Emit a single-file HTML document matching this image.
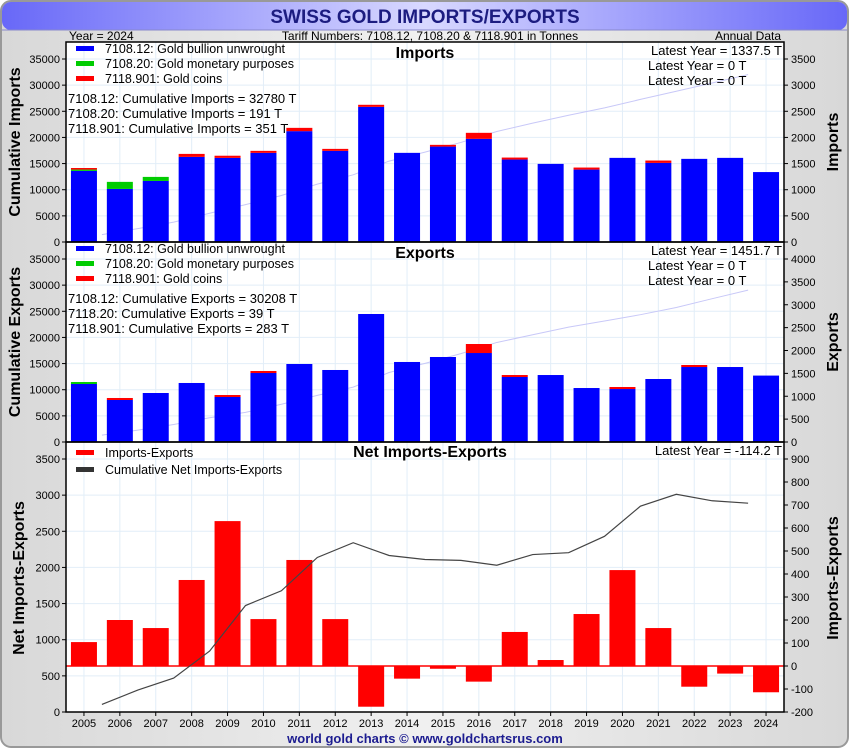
<!DOCTYPE html>
<html><head><meta charset="utf-8"><style>
body{margin:0;background:#fff;}
svg{display:block;font-family:"Liberation Sans",sans-serif;}
</style></head><body>
<svg id="c" width="850" height="750" xmlns="http://www.w3.org/2000/svg">
<defs>
<linearGradient id="tg" x1="0" x2="1"><stop offset="0" stop-color="#6868f8"/><stop offset="0.5" stop-color="#d8d8ff"/><stop offset="1" stop-color="#6868f8"/></linearGradient>
<linearGradient id="bg" x1="0" x2="1"><stop offset="0" stop-color="#d8d8d8"/><stop offset="0.5" stop-color="#f0f0f0"/><stop offset="1" stop-color="#d8d8d8"/></linearGradient>
</defs>
<rect x="1" y="1" width="847" height="746" rx="10" fill="url(#bg)" stroke="#999" stroke-width="2"/>
<rect x="2" y="2" width="845" height="28" rx="9" fill="url(#tg)"/>
<line x1="2" y1="30" x2="847" y2="30" stroke="#8888cc"/>
<text x="425" y="23" text-anchor="middle" font-size="19" font-weight="bold" fill="#1c1c80">SWISS GOLD IMPORTS/EXPORTS</text>
<text x="69" y="40" font-size="12">Year = 2024</text>
<text x="430" y="40" text-anchor="middle" font-size="12">Tariff Numbers: 7108.12, 7108.20 &amp; 7118.901 in Tonnes</text>
<text x="781" y="40" text-anchor="end" font-size="12">Annual Data</text>
<rect x="66" y="42" width="718" height="670" fill="#fff"/>
<g id="g"></g>
<text x="425" y="743" text-anchor="middle" font-size="13" font-weight="bold" fill="#1c1c90">world gold charts © www.goldchartsrus.com</text>
</svg>
<script>
const years=['2005','2006','2007','2008','2009','2010','2011','2012','2013','2014','2015','2016','2017','2018','2019','2020','2021','2022','2023','2024'];
const impBullion=[1360,1015,1168,1628,1609,1705,2120,1743,2585,1705,1825,1973,1577,1494,1385,1609,1513,1590,1609,1337.5];
const impMonetary=[25,135,77,0,0,0,0,0,0,0,0,0,0,0,0,0,0,0,0,0];
const impCoins=[30,0,0,57,41,38,63,38,39,0,33,115,38,0,39,0,45,0,0,0];
const expBullion=[1268,918,1071,1290,984,1508,1705,1574,2798,1749,1858,1945,1421,1464,1180,1158,1377,1639,1639,1451.7];
const expMonetary=[43,0,0,0,0,0,0,0,0,0,0,0,0,0,0,0,0,0,0,0];
const expCoins=[0,44,0,0,43,44,0,0,0,0,0,197,43,0,0,44,0,44,0,0];
const netVals=[104,200,165,374,630,204,461,204,-177,-55,-12,-68,148,26,226,417,165,-90,-33,-114.2];
const impLeftTicks=[0,5000,10000,15000,20000,25000,30000,35000];
const impRightTicks=[0,500,1000,1500,2000,2500,3000,3500];
const expRightTicks=[0,500,1000,1500,2000,2500,3000,3500,4000];
const netLeftTicks=[0,500,1000,1500,2000,2500,3000,3500];
const netRightTicks=[-200,-100,0,100,200,300,400,500,600,700,800,900];

const NS='http://www.w3.org/2000/svg';
const G=document.getElementById('g');
function mk(t,a,txt){const e=document.createElementNS(NS,t);for(const k in a)e.setAttribute(k,a[k]);if(txt!==undefined)e.textContent=txt;G.appendChild(e);return e;}
const X0=66,X1=784,slot=(X1-X0)/years.length;
const xc=i=>X0+slot*(i+0.5);
const BW=26;

function panel(o){
  const yL=v=>o.bot-(v-o.lmin)/(o.lmax-o.lmin)*(o.bot-o.topTick);
  const yR=v=>o.bot-(v-o.rmin)/(o.rmax-o.rmin)*(o.bot-o.topTick);
  for(let i=0;i<years.length;i++){const l=mk('line',{x1:xc(i),x2:xc(i),y1:o.top,y2:o.bot,stroke:'#e2eef8'});
    
    }
  o.lticks.forEach(v=>{const y=yL(v);
    const l=mk('line',{x1:X0,x2:X1,y1:y,y2:y,stroke:'#e2eef8'});
    
    
    mk('line',{x1:X0-4,x2:X0,y1:y,y2:y,stroke:'#000'});
    const t=mk('text',{x:X0-6,y:y+4,'text-anchor':'end','font-size':11},String(v));
    
    });
  o.rticks.forEach(v=>{const y=yR(v);
    mk('line',{x1:X1,x2:X1+4,y1:y,y2:y,stroke:'#000'});
    const t=mk('text',{x:X1+7,y:y+4,'font-size':11},String(v));
    
    });
  if(o.cum){let s=0,pts=[];for(let i=0;i<years.length-1;i++){s+=o.cum[i];pts.push((xc(i)+slot/2)+','+yL(s));}
    const p=mk('polyline',{points:pts.join(' '),fill:'none',stroke:o.cumColor,'stroke-width':o.cumW});
    
    }
  return {yL,yR};
}
function stacked(o,s1,s2,s3,yR,name){
  for(let i=0;i<years.length;i++){let base=0;
    [[s1,'#0000ff'],[s2,'#00cc00'],[s3,'#ff0000']].forEach(([arr,c],k)=>{const v=arr[i];if(v>0){
      const r=mk('rect',{x:xc(i)-BW/2,y:yR(base+v),width:BW,height:yR(base)-yR(base+v),fill:c});
      
      
      base+=v;}});}
}
function txt(x,y,s,size,extra,name){const t=mk('text',Object.assign({x:x,y:y,'font-size':size},extra||{}),s);
  
  return t;}
function legend(y0,items){items.forEach((it,k)=>{const y=y0+k*15;
  mk('rect',{x:76,y:y-3,width:18,height:5,fill:it[0]});
  txt(105,y+4,it[1],12.5,{},'legend-entry');});}

const impTot=impBullion.map((v,i)=>v+impMonetary[i]+impCoins[i]);
let P=panel({top:42,bot:242,topTick:59,lmin:0,lmax:35000,rmin:0,rmax:3500,lticks:impLeftTicks,rticks:impRightTicks,cum:impTot,cumColor:'#c8c8f8',cumW:1});
stacked({},impBullion,impMonetary,impCoins,P.yR,'imports');
legend(49,[['#0000ff','7108.12: Gold bullion unwrought'],['#00cc00','7108.20: Gold monetary purposes'],['#ff0000','7118.901: Gold coins']]);
txt(68,103,'7108.12: Cumulative Imports = 32780 T',13,{},'cumulative-note');
txt(68,118,'7108.20: Cumulative Imports = 191 T',13,{},'cumulative-note');
txt(68,133,'7118.901: Cumulative Imports = 351 T',13,{},'cumulative-note');
txt(425,58,'Imports',16,{'text-anchor':'middle','font-weight':'bold'},'imports-title');
txt(782,55,'Latest Year = 1337.5 T',13,{'text-anchor':'end'},'latest-year-note');
txt(648,70,'Latest Year = 0 T',13,{},'latest-year-note');
txt(648,85,'Latest Year = 0 T',13,{},'latest-year-note');
txt(0,0,'Cumulative Imports',16,{'font-weight':'bold','text-anchor':'middle',transform:'translate(20,142) rotate(-90)'},'imports-left-axis-title');
txt(0,0,'Imports',16,{'font-weight':'bold','text-anchor':'middle',transform:'translate(838,142) rotate(-90)'},'imports-right-axis-title');

const expTot=expBullion.map((v,i)=>v+expMonetary[i]+expCoins[i]);
P=panel({top:242,bot:442,topTick:259,lmin:0,lmax:35000,rmin:0,rmax:4000,lticks:impLeftTicks,rticks:expRightTicks,cum:expTot,cumColor:'#c8c8f8',cumW:1});
stacked({},expBullion,expMonetary,expCoins,P.yR,'exports');
legend(249,[['#0000ff','7108.12: Gold bullion unwrought'],['#00cc00','7108.20: Gold monetary purposes'],['#ff0000','7118.901: Gold coins']]);
txt(68,303,'7108.12: Cumulative Exports = 30208 T',13,{},'cumulative-note');
txt(68,318,'7118.20: Cumulative Exports = 39 T',13,{},'cumulative-note');
txt(68,333,'7118.901: Cumulative Exports = 283 T',13,{},'cumulative-note');
txt(425,258,'Exports',16,{'text-anchor':'middle','font-weight':'bold'},'exports-title');
txt(782,255,'Latest Year = 1451.7 T',13,{'text-anchor':'end'},'latest-year-note');
txt(648,270,'Latest Year = 0 T',13,{},'latest-year-note');
txt(648,285,'Latest Year = 0 T',13,{},'latest-year-note');
txt(0,0,'Cumulative Exports',16,{'font-weight':'bold','text-anchor':'middle',transform:'translate(20,342) rotate(-90)'},'exports-left-axis-title');
txt(0,0,'Exports',16,{'font-weight':'bold','text-anchor':'middle',transform:'translate(838,342) rotate(-90)'},'exports-right-axis-title');

P=panel({top:442,bot:712,topTick:459,lmin:0,lmax:3500,rmin:-200,rmax:900,lticks:netLeftTicks,rticks:netRightTicks});
const yz=P.yR(0);
netVals.forEach((v,i)=>{const y1=P.yR(Math.max(v,0)),y2=P.yR(Math.min(v,0));
  const r=mk('rect',{x:xc(i)-BW/2,y:y1,width:BW,height:y2-y1,fill:'#ff0000'});
  
  });
mk('line',{x1:X0,x2:X1,y1:yz,y2:yz,stroke:'#ff0000','stroke-width':1.5});
{let s=0,pts=[];for(let i=0;i<years.length-1;i++){s+=netVals[i];pts.push((xc(i)+slot/2)+','+P.yL(s));}
 const p=mk('polyline',{points:pts.join(' '),fill:'none',stroke:'#444','stroke-width':1.2});
 
 }
mk('rect',{x:76,y:450,width:18,height:5,fill:'#ff0000'});
txt(105,457,'Imports-Exports',12.5,{},'legend-entry');
mk('rect',{x:76,y:467,width:18,height:5,fill:'#333'});
txt(105,474,'Cumulative Net Imports-Exports',12.5,{},'legend-entry');
txt(430,457,'Net Imports-Exports',16,{'text-anchor':'middle','font-weight':'bold'},'net-title');
txt(782,455,'Latest Year = -114.2 T',13,{'text-anchor':'end'},'latest-year-note');
txt(0,0,'Net Imports-Exports',16,{'font-weight':'bold','text-anchor':'middle',transform:'translate(24,578) rotate(-90)'},'net-left-axis-title');
txt(0,0,'Imports-Exports',16,{'font-weight':'bold','text-anchor':'middle',transform:'translate(838,578) rotate(-90)'},'net-right-axis-title');
years.forEach((y,i)=>{mk('line',{x1:xc(i),x2:xc(i),y1:712,y2:716,stroke:'#000'});
  txt(xc(i),727,y,11,{'text-anchor':'middle'},'x-tick-label');});

[[42,242],[242,442],[442,712]].forEach(([a,b])=>{const r=mk('rect',{x:X0,y:a,width:X1-X0,height:b-a,fill:'none',stroke:'#000','stroke-width':1.5});
  
  });
</script>
</body></html>
